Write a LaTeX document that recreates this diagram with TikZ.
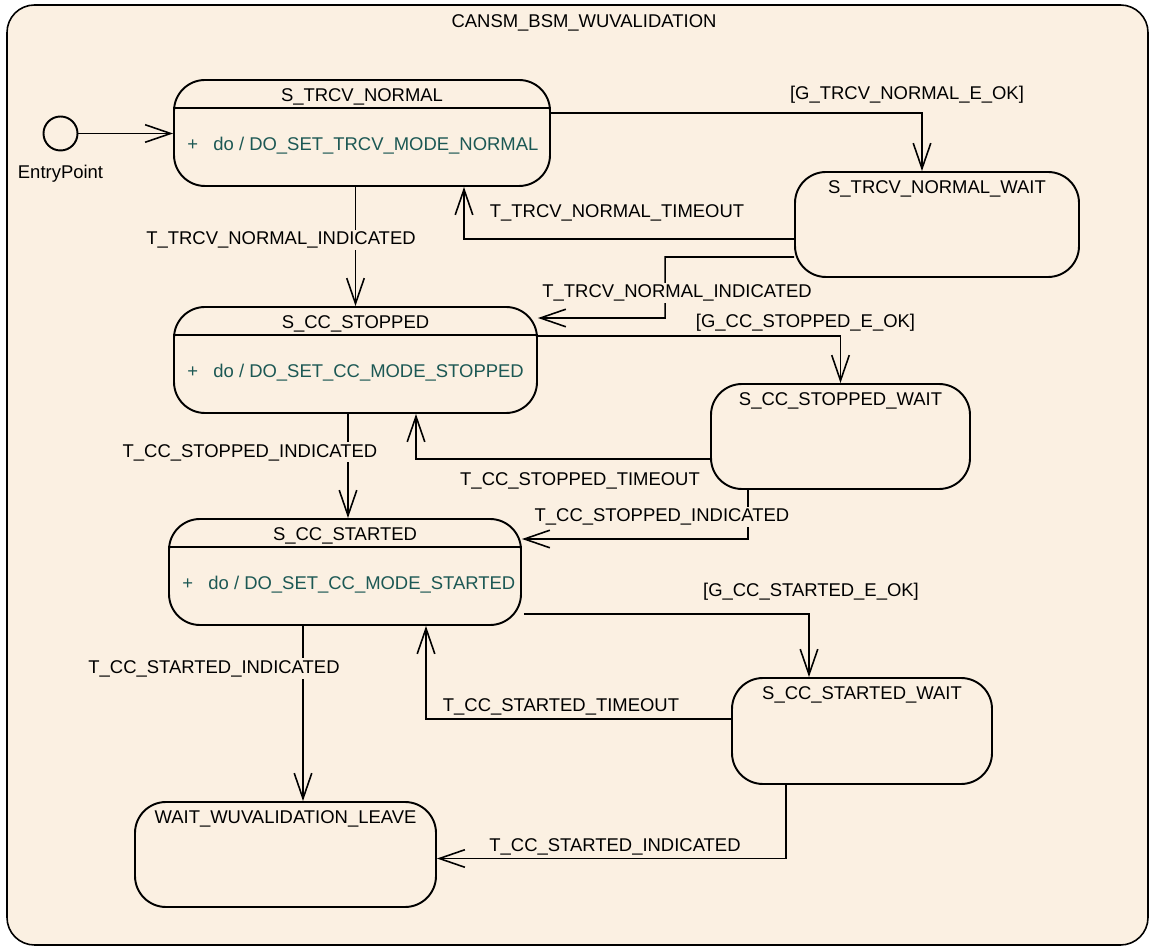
\documentclass[tikz,border=0pt]{standalone}
\usepackage{fontspec}
\setmainfont{Liberation Sans}
\usetikzlibrary{arrows.meta}
\definecolor{bgcream}{RGB}{251,240,226}
\definecolor{dotext}{RGB}{28,88,84}

\begin{document}
\begin{tikzpicture}[font=\fontsize{10.5}{12}\selectfont,
  stbox/.style={draw, rounded corners=0.62cm, line width=1.1pt, fill=bgcream, minimum height=2.12cm, inner sep=0pt},
  dobox/.style={anchor=west, inner sep=0pt, text=dotext},
  lbl/.style={fill=bgcream, inner sep=1pt},
  tr/.style={line width=0.9pt, -{Straight Barb[length=14.5pt,width=10pt]}}]
\useasboundingbox (0,0) rectangle (23.04,19.02);
\draw[line width=0.9pt, fill=bgcream, rounded corners=0.55cm] (0.14,0.12) rectangle (22.96,18.92);
\path (11.68,18.56) node (title) {CANSM\_BSM\_WUVALIDATION};

% states
\path (1.21,16.35) node[circle, draw, line width=1.1pt, fill=bgcream, minimum size=0.68cm, inner sep=0pt] (entry) {};
\path ([yshift=-0.45cm]entry.south) node (entryLbl) {EntryPoint};

\path (7.24,16.36) node[stbox, minimum width=7.52cm] (trcvNormal) {};
\path ([yshift=-0.36cm]trcvNormal.north) node (trcvNormalT) {S\_TRCV\_NORMAL};
\draw[line width=1.1pt] ([yshift=-0.58cm]trcvNormal.north west) -- ([yshift=-0.58cm]trcvNormal.north east);
\path ([shift={(0.28cm,-1.34cm)}]trcvNormal.north west) node[dobox] (trcvNormalD) {\makebox[0.52cm][l]{+}do / DO\_SET\_TRCV\_MODE\_NORMAL};

\path (18.74,14.53) node[stbox, minimum width=5.68cm, minimum height=2.10cm] (trcvWait) {};
\path ([yshift=-0.36cm]trcvWait.north) node (trcvWaitT) {S\_TRCV\_NORMAL\_WAIT};

\path (7.11,11.82) node[stbox, minimum width=7.26cm] (ccStopped) {};
\path ([yshift=-0.36cm]ccStopped.north) node (ccStoppedT) {S\_CC\_STOPPED};
\draw[line width=1.1pt] ([yshift=-0.58cm]ccStopped.north west) -- ([yshift=-0.58cm]ccStopped.north east);
\path ([shift={(0.28cm,-1.34cm)}]ccStopped.north west) node[dobox] (ccStoppedD) {\makebox[0.52cm][l]{+}do / DO\_SET\_CC\_MODE\_STOPPED};

\path (16.81,10.29) node[stbox, minimum width=5.18cm, minimum height=2.10cm] (ccStoppedWait) {};
\path ([yshift=-0.36cm]ccStoppedWait.north) node (ccStoppedWaitT) {S\_CC\_STOPPED\_WAIT};

\path (6.90,7.58) node[stbox, minimum width=7.04cm] (ccStarted) {};
\path ([yshift=-0.36cm]ccStarted.north) node (ccStartedT) {S\_CC\_STARTED};
\draw[line width=1.1pt] ([yshift=-0.58cm]ccStarted.north west) -- ([yshift=-0.58cm]ccStarted.north east);
\path ([shift={(0.28cm,-1.34cm)}]ccStarted.north west) node[dobox] (ccStartedD) {\makebox[0.52cm][l]{+}do / DO\_SET\_CC\_MODE\_STARTED};

\path (17.24,4.40) node[stbox, minimum width=5.20cm] (ccStartedWait) {};
\path ([yshift=-0.36cm]ccStartedWait.north) node (ccStartedWaitT) {S\_CC\_STARTED\_WAIT};

\path (5.71,1.93) node[stbox, minimum width=6.02cm, minimum height=2.10cm] (wuLeave) {};
\path ([yshift=-0.36cm]wuLeave.north) node (wuLeaveT) {WAIT\_WUVALIDATION\_LEAVE};

% transitions
\draw[tr] (entry.east) -- (entry.east -| trcvNormal.west);

\draw[tr] ([yshift=0.4cm]trcvNormal.east) -| node[lbl, pos=0.5, shift={(-0.3cm,0.36cm)}] (gTrcv) {[G\_TRCV\_NORMAL\_E\_OK]} ([xshift=-0.3cm]trcvWait.north);
\draw[tr] ([yshift=-0.29cm]trcvWait.west) -| node[lbl, pos=0.5, shift={(3.06cm,0.52cm)}] (tTrcvTo) {T\_TRCV\_NORMAL\_TIMEOUT} ([xshift=2.04cm]trcvNormal.south);
\draw[tr] ([yshift=-0.65cm]trcvWait.west) -- ++(-2.58cm,0) -- node[lbl, pos=0.59, xshift=0.24cm] (tTrcvInd2) {T\_TRCV\_NORMAL\_INDICATED} ++(0,-1.22cm) -- ([yshift=0.84cm]ccStopped.east);
\draw[tr] (ccStopped.north |- trcvNormal.south) -- node[lbl, pos=0.446, xshift=-1.49cm] (tTrcvInd1) {T\_TRCV\_NORMAL\_INDICATED} (ccStopped.north);

\draw[tr] ([yshift=0.48cm]ccStopped.east) -| node[lbl, pos=0.5, shift={(-0.7cm,0.26cm)}] (gStopped) {[G\_CC\_STOPPED\_E\_OK]} (ccStoppedWait.north);
\draw[tr] ([yshift=-0.45cm]ccStoppedWait.west) -| node[lbl, pos=0.5, shift={(3.28cm,-0.44cm)}] (tStoppedTo) {T\_CC\_STOPPED\_TIMEOUT} ([xshift=1.21cm]ccStopped.south);
\draw[tr] ([xshift=-0.15cm]ccStopped.south) -- node[lbl, pos=0.37, xshift=-1.96cm] (tStoppedInd1) {T\_CC\_STOPPED\_INDICATED} ([xshift=-0.15cm]ccStopped.south |- ccStarted.north);
\draw[tr] ([xshift=-1.85cm]ccStoppedWait.south) |- node[lbl, pos=0.5, shift={(-1.72cm,0.44cm)}] (tStoppedInd2) {T\_CC\_STOPPED\_INDICATED} ([yshift=0.66cm]ccStarted.east);

\draw[tr] ([shift={(0.04cm,-0.84cm)}]ccStarted.east) -| node[lbl, pos=0.5, shift={(0.04cm,0.44cm)}] (gStarted) {[G\_CC\_STARTED\_E\_OK]} ([xshift=-1.06cm]ccStartedWait.north);
\draw[tr] ([yshift=0.24cm]ccStartedWait.west) -| node[lbl, pos=0.5, shift={(2.7cm,0.24cm)}] (tStartedTo) {T\_CC\_STARTED\_TIMEOUT} ([xshift=1.62cm]ccStarted.south);
\draw[tr] ([xshift=-0.84cm]ccStarted.south) -- node[lbl, pos=0.243, xshift=-1.78cm] (tStartedInd1) {T\_CC\_STARTED\_INDICATED} ([xshift=-0.84cm]ccStarted.south |- wuLeave.north);
\draw[tr] ([xshift=-1.52cm]ccStartedWait.south) |- node[lbl, pos=0.5, shift={(-3.42cm,0.24cm)}] (tStartedInd2) {T\_CC\_STARTED\_INDICATED} ([yshift=-0.08cm]wuLeave.east);
\end{tikzpicture}
\end{document}
